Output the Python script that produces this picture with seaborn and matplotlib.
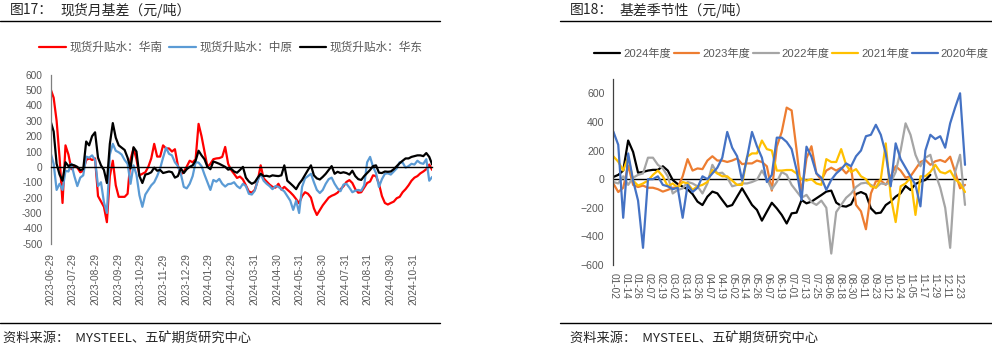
import numpy as np
import pandas as pd
import matplotlib
matplotlib.use("Agg")
import matplotlib.pyplot as plt
import matplotlib.dates as mdates
from matplotlib.lines import Line2D
import seaborn as sns

# ---------------- Figure 17 data: spot premium by region (yuan/ton), every 4 days ----------------
left_start = "2023-06-29"
left_freq = "4D"
south = [505, 450, 300, 60, -235, 140, 80, -15, 5, -5,
         -35, -25, 45, 55, 45, 55, -190, -225, -260, -360,
         -60, 40, -120, -195, -195, -195, -175, 50, 120, 50,
         -55, -45, -35, 0, 55, 150, 67, 67, 140, 120,
         120, 100, 115, 10, -50, -30, 2, 40, 30, 50,
         280, 200, 100, 0, 20, 50, 55, 57, 65, 130,
         20, -20, -45, -72, -63, -82, -120, -160, -168, -150,
         -90, 10, -75, -95, -115, -130, -135, -110, -148, -130,
         -148, -165, -185, -210, -237, -190, -165, -175, -200, -270,
         -313, -282, -250, -225, -200, -188, -180, -168, -145, -126,
         -98, -86, -105, -145, -168, -165, -135, -105, -95, -55,
         -60, -110, -190, -235, -245, -235, -226, -204, -195, -165,
         -145, -120, -90, -70, -60, -42, -30, -15, 15, -20]
central = [89, 20, -150, -110, -150, -25, -30, 20, -60, -125,
           -70, -55, 67, 60, 75, 45, -125, -100, -230, -300,
           80, 150, 105, 95, 80, 45, 20, -110, 10, -50,
           -185, -260, -180, -150, -120, -100, -60, -10, 60, 125,
           85, 75, 30, 5, -45, -130, -140, -110, -60, 30,
           28, 5, -50, -100, -150, -85, -96, -78, -110, -128,
           -112, -110, -100, -125, -139, -110, -125, -175, -180, -155,
           -90, -45, -90, -110, -125, -145, -125, -130, -145, -160,
           -190, -220, -280, -220, -300, -130, -75, -60, -45, -100,
           -150, -170, -150, -110, -80, -70, -110, -140, -158, -115,
           -110, -135, -165, -155, -150, -155, -120, 30, 65, 0,
           -40, -130, -80, -45, -42, -50, -30, -10, 30, 28,
           -5, 5, 20, 15, 40, 25, 20, 50, -90, -65]
east = [295, 230, 20, -50, -90, 30, 5, 15, 10, 0,
        -20, -15, 165, 140, 200, 225, 60, 10, -20, -105,
        150, 285, 190, 140, 125, 110, 60, -10, 128, 100,
        -60, -105, -50, -45, -35, -5, -25, -20, -40, -35,
        -30, -35, -70, -60, -10, -40, -15, 0, 10, 40,
        105, 75, 50, 0, -15, 35, 28, 20, 10, 0,
        -18, -12, -30, -38, -20, 0, -70, -95, -110, -100,
        -70, -45, -60, -58, -63, -55, -58, -60, -55, 10,
        -90, -107, -125, -145, -110, -85, -52, -20, 10, -55,
        -75, -82, -65, -45, -20, 5, -45, -32, -40, -35,
        -40, -50, -25, -60, -80, -85, -60, -40, -20, 5,
        10, -38, -40, -30, -32, -30, -15, 5, 24, 40,
        55, 55, 65, 70, 75, 75, 70, 90, 65, 15]
left_series = ["现货升贴水：华南", "现货升贴水：中原", "现货升贴水：华东"]
left_ticks = ["2023-06-29", "2023-07-29", "2023-08-29", "2023-09-29", "2023-10-29",
              "2023-11-29", "2023-12-29", "2024-01-29", "2024-02-29", "2024-03-31",
              "2024-04-30", "2024-05-31", "2024-06-30", "2024-07-31", "2024-08-31",
              "2024-09-30", "2024-10-31"]

# ---------------- Figure 18 data: basis seasonality (yuan/ton), every 5 trading-calendar slots ----------------
y2024 = [15, 30, 60, 270, 190, 45, 50, 60, 65, 65,
         90, 60, -6, -34, -52, -71, -104, -157, -181, -122,
         -87, -99, -146, -192, -181, -122, -64, -122, -180, -215,
         -290, -227, -165, -204, -250, -310, -239, -234, -146, -169,
         -157, -134, -111, -87, -80, -164, -187, -192, -176, -104,
         -90, -106, -204, -239, -234, -181, -157, -122, -99, -48,
         -76, -34, -17, -6, 30]
y2023 = [-30, -90, -60, 95, -40, -55, -45, -60, -60, -70,
         -87, -75, -60, -60, 20, 140, 60, 75, 70, 130,
         160, 130, 130, 120, 130, 145, 105, 110, 110, 130,
         120, 90, -80, 227, 330, 500, 480, 204, -100, 146,
         230, 40, -6, 60, 80, 60, 80, 40, 80, -180,
         -225, -350, -100, -15, -10, -40, 20, 90, 60, 10,
         20, 70, 120, 134, 100, 125, 134, 120, 157, 50,
         -64, -40]
y2022 = [-20, -30, 20, -40, 10, 30, 40, 150, 150, 100,
         75, 20, -100, -75, -65, -20, -30, -50, -100, -30,
         100, 40, 45, 10, -50, -40, -30, -30, -20, -5,
         60, 0, -70, -20, 50, 30, -40, -85, -130, -110,
         -160, -180, -150, -200, -520, -230, -180, -130, -100, -55,
         -30, -25, -40, -60, -30, -35, -25, 50, 200, 390,
         310, 170, 90, 150, 170, 40, -60, -200, -480, 50,
         170, -180]
y2021 = [160, 122, 60, 157, -10, -45, -30, -10, 30, 60,
         20, -50, -30, -60, -20, -30, -75, -50, -40, -20,
         64, 40, 20, 20, -10, -40, -40, 157, 180, 180,
         270, 210, 200, 60, 60, 64, 64, 40, 0, -10,
         0, -30, -40, 140, 120, 120, 210, 100, 50, 70,
         20, 0, -50, -60, 0, 250, -120, -300, -50, -30,
         10, -250, 20, 20, 50, 100, 50, 40, 60, 0,
         -30, -90]
y2020 = [333, 240, -270, 180, -10, -150, -480, 0, 0, 20,
         -40, -50, -70, -60, -270, -40, -90, -60, 20, 0,
         40, 80, 150, 330, 220, 160, -10, 150, 330, 230,
         150, -20, 30, 290, 290, 260, 210, 64, -146, 227,
         157, 40, 10, -75, -5, 40, 70, 110, 90, 160,
         200, 300, 310, 380, 310, 180, -50, 250, 140, 80,
         20, -40, -190, 200, 310, 280, 300, 220, 390, 500,
         600, 100]
season_names = ["2024年度", "2023年度", "2022年度", "2021年度", "2020年度"]
season_ticks = ["01-02", "01-14", "01-26", "02-07", "02-19", "03-02", "03-14", "03-26",
                "04-07", "04-19", "05-02", "05-14", "05-26", "06-07", "06-19", "07-01",
                "07-13", "07-25", "08-06", "08-18", "08-30", "09-11", "09-23", "10-12",
                "10-24", "11-05", "11-17", "11-29", "12-11", "12-23"]
season_slots = 357       # number of calendar slots on the category axis
season_stride = 5        # slots between sampled values
label_stride = 12        # slots between tick labels

# ---------------- styling ----------------
sns.set_theme(style="white")
plt.rcParams["font.family"] = ["Liberation Sans", "Noto Sans CJK SC", "DejaVu Sans"]
plt.rcParams["axes.unicode_minus"] = False
GREY = "#595959"
W, H = 992, 349

fig = plt.figure(figsize=(W / 100, H / 100), dpi=100)


def fx(px):
    return px / W


def fy(py):
    return 1 - py / H


# ---------------- Figure 17 ----------------
axL = fig.add_axes([fx(50.7), fy(243.7), fx(432.2 - 50.7), (243.7 - 74.7) / H])
dates = pd.date_range(left_start, periods=len(south), freq=left_freq)
dfL = pd.DataFrame({"date": np.tile(dates, 3),
                    "value": south + central + east,
                    "series": np.repeat(left_series, len(south))})
sns.lineplot(data=dfL, x="date", y="value", hue="series", hue_order=left_series,
             palette=["#FF0000", "#5B9BD5", "#000000"], linewidth=1.6, ax=axL)
axL.set_xlim(dates[0], dates[-1])
axL.set_ylim(-500, 600)
yt = list(range(-500, 601, 100))
axL.set_yticks(yt, labels=[str(v) for v in yt])
axL.set_xlabel("")
axL.set_ylabel("")
for s in ["top", "right"]:
    axL.spines[s].set_visible(False)
axL.spines["left"].set_color("#7f7f7f")
axL.spines["left"].set_linewidth(0.9)
axL.spines["bottom"].set_position(("data", 0))
axL.spines["bottom"].set_color("#000000")
axL.spines["bottom"].set_linewidth(1.0)
tick_nums = mdates.date2num(pd.to_datetime(left_ticks))
axL.set_xticks(tick_nums)
axL.tick_params(axis="x", direction="out", length=3, width=0.8, color="#000000", labelbottom=False)
axL.tick_params(axis="y", direction="out", length=4, width=0.8, color="#7f7f7f",
                labelsize=7.3, labelcolor=GREY, pad=2)
sec = axL.secondary_xaxis("bottom")
sec.set_xticks(tick_nums, labels=left_ticks)
sec.tick_params(axis="x", length=0, labelsize=7.3, labelcolor=GREY, rotation=90, pad=7)
sec.spines["bottom"].set_visible(False)
sns.move_legend(axL, "center", bbox_to_anchor=(fx(231), fy(48)), bbox_transform=fig.transFigure,
                ncol=3, title=None, frameon=False, fontsize=8.4, handlelength=2.3,
                handletextpad=0.3, columnspacing=0.6, labelcolor=GREY)

# ---------------- Figure 18 ----------------
axR = fig.add_axes([fx(612.8), fy(265), fx(966.5 - 612.8), (265 - 79) / H])
season_values = [y2024, y2023, y2022, y2021, y2020]
rows = []
for name, vals in zip(season_names, season_values):
    for i, v in enumerate(vals):
        rows.append((i * season_stride, v, name))
dfR = pd.DataFrame(rows, columns=["slot", "value", "year"])
sns.lineplot(data=dfR, x="slot", y="value", hue="year", hue_order=season_names,
             palette=["#000000", "#ED7D31", "#A5A5A5", "#FFC000", "#4472C4"],
             linewidth=1.6, ax=axR)
axR.axhline(0, color="#000000", linewidth=1.0, zorder=1.5)
axR.set_xlim(-0.5, season_slots - 0.5)
axR.set_ylim(-600, 700)
ytr = list(range(-600, 601, 200))
axR.set_yticks(ytr, labels=[str(v).replace("-", "\u2212") for v in ytr])
axR.set_xticks(np.arange(len(season_ticks)) * label_stride, labels=season_ticks)
axR.set_xlabel("")
axR.set_ylabel("")
for s in ["top", "right", "bottom"]:
    axR.spines[s].set_visible(False)
axR.spines["left"].set_color("#404040")
axR.spines["left"].set_linewidth(0.9)
axR.tick_params(axis="x", length=0, labelsize=7.3, labelcolor=GREY, rotation=270, pad=6)
axR.tick_params(axis="y", direction="out", length=4, width=0.8, color="#404040",
                labelsize=7.6, labelcolor=GREY, pad=2)
sns.move_legend(axR, "center", bbox_to_anchor=(fx(791.5), fy(54)), bbox_transform=fig.transFigure,
                ncol=5, title=None, frameon=False, fontsize=8.1, handlelength=2.3,
                handletextpad=0.25, columnspacing=0.25, labelcolor=GREY)

# ---------------- titles, rules, sources ----------------
cjk = ["Noto Sans CJK SC", "DejaVu Sans"]
fig.text(fx(10), fy(10), "图17：", fontsize=10, family=cjk, va="center", ha="left")
fig.text(fx(60), fy(10), "现货月基差（元/吨）", fontsize=10, family=cjk, va="center", ha="left")
fig.text(fx(570), fy(10), "图18：", fontsize=10, family=cjk, va="center", ha="left")
fig.text(fx(620), fy(10), "基差季节性（元/吨）", fontsize=10, family=cjk, va="center", ha="left")
for x0, x1 in [(0, 440), (560, 992)]:
    fig.add_artist(Line2D([fx(x0), fx(x1)], [fy(21), fy(21)], color="black", linewidth=1.0))
    fig.add_artist(Line2D([fx(x0), fx(x1)], [fy(323), fy(323)], color="black", linewidth=1.0))
fig.text(fx(3), fy(338), "资料来源：  MYSTEEL、五矿期货研究中心", fontsize=9.5, family=cjk,
         va="center", ha="left")
fig.text(fx(570), fy(338), "资料来源：  MYSTEEL、五矿期货研究中心", fontsize=9.5, family=cjk,
         va="center", ha="left")

fig.savefig("out.png", dpi=100)
